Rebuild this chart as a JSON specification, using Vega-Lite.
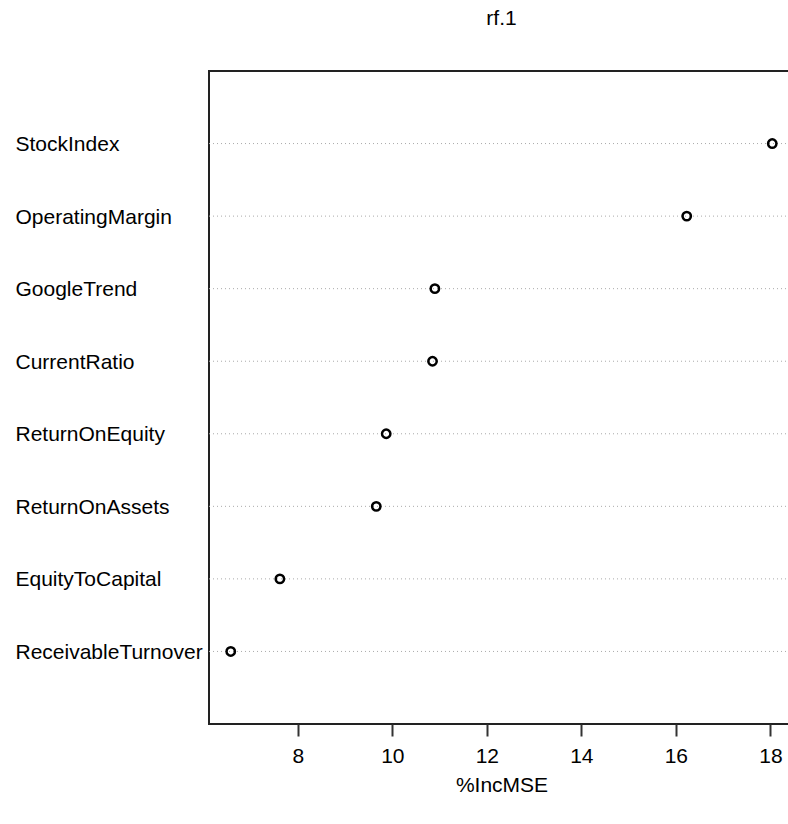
{
  "$schema": "https://vega.github.io/schema/vega-lite/v6.json",
  "width": 585,
  "height": 653,
  "autosize": "none",
  "padding": {"left": 209, "top": 71, "right": 0, "bottom": 100},
  "background": "white",
  "config": {
    "font": "Liberation Sans",
    "view": {"stroke": "#222222", "strokeWidth": 2}
  },
  "title": {
    "text": "rf.1",
    "fontSize": 21,
    "fontWeight": "normal",
    "font": "Liberation Sans",
    "color": "black",
    "anchor": "middle",
    "frame": "group",
    "offset": 42
  },
  "data": {
    "values": [
      {"variable": "StockIndex", "value": 18.04, "rank": 1},
      {"variable": "OperatingMargin", "value": 16.23, "rank": 2},
      {"variable": "GoogleTrend", "value": 10.90, "rank": 3},
      {"variable": "CurrentRatio", "value": 10.85, "rank": 4},
      {"variable": "ReturnOnEquity", "value": 9.87, "rank": 5},
      {"variable": "ReturnOnAssets", "value": 9.66, "rank": 6},
      {"variable": "EquityToCapital", "value": 7.62, "rank": 7},
      {"variable": "ReceivableTurnover", "value": 6.58, "rank": 8}
    ]
  },
  "encoding": {
    "y": {
      "field": "variable",
      "type": "nominal",
      "sort": {"field": "rank", "order": "ascending"},
      "scale": {"type": "point", "padding": 1},
      "axis": {
        "title": null,
        "domain": false,
        "ticks": false,
        "tickSize": 0,
        "labelAlign": "left",
        "labelPadding": 194,
        "labelLimit": 300,
        "labelFontSize": 21,
        "labelColor": "black",
        "labelFont": "Liberation Sans",
        "labelOffset": 1
      }
    }
  },
  "layer": [
    {
      "mark": {"type": "rule", "color": "#aaaaaa", "strokeDash": [1, 3], "strokeWidth": 1}
    },
    {
      "mark": {"type": "point", "filled": false, "stroke": "black", "strokeWidth": 2.5, "size": 70, "opacity": 1},
      "encoding": {
        "x": {
          "field": "value",
          "type": "quantitative",
          "scale": {"domain": [6.12, 18.5], "nice": false, "zero": false},
          "axis": {
            "values": [8, 10, 12, 14, 16, 18],
            "domain": false,
            "grid": false,
            "tickSize": 12,
            "tickWidth": 2,
            "tickColor": "#333333",
            "labelPadding": 9,
            "labelFontSize": 21,
            "labelColor": "black",
            "labelFont": "Liberation Sans",
            "title": "%IncMSE",
            "titleFontSize": 21,
            "titleFontWeight": "normal",
            "titleColor": "black",
            "titleFont": "Liberation Sans",
            "titlePadding": 8
          }
        }
      }
    }
  ]
}
